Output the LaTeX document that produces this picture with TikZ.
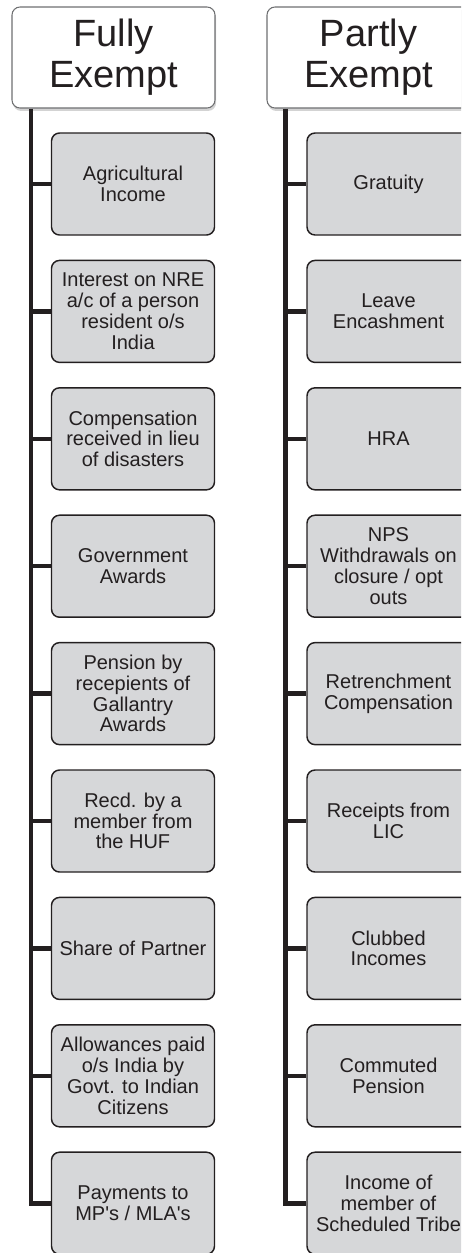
\documentclass[tikz,border=0pt]{standalone}
\usepackage{fontspec}
\setmainfont{Liberation Sans}
\usetikzlibrary{shadows}
\definecolor{inkdark}{RGB}{35,31,32}
\definecolor{boxgray}{RGB}{214,215,217}
\definecolor{framegray}{RGB}{110,111,113}
\tikzstyle{headbox}=[rectangle,rounded corners=6pt,draw=framegray,line width=0.8pt,fill=white,drop shadow={shadow xshift=0.8pt,shadow yshift=-2.2pt,opacity=0.35},minimum width=152.25pt,minimum height=75.75pt,inner sep=0pt,align=center,text=inkdark,font=\fontsize{28.5}{30.5}\selectfont]
\tikzstyle{itembox}=[rectangle,rounded corners=6pt,draw=inkdark,line width=1.1pt,fill=boxgray,minimum width=122.25pt,minimum height=76.5pt,inner sep=0pt,align=center,text=inkdark,font=\fontsize{15}{15.6}\selectfont]
\tikzstyle{spine}=[draw=inkdark,line width=3.6pt]
\tikzstyle{branch}=[draw=inkdark,line width=3.2pt]
\begin{document}
\begin{tikzpicture}[x=0.75pt,y=-0.75pt]

    \clip (0,0) rectangle (461,1253);

    % headings
    \node[headbox] (lhead) at (113.5,57.5) {Fully\\Exempt};
    \node[headbox] (rhead) at (368.5,57.5) {Partly\\Exempt};

    % fully exempt column
    \foreach \i/\txt in {1/{Agricultural\\Income}, 2/{Interest on NRE\\a/c of a person\\resident o/s\\India}, 3/{Compensation\\received in lieu\\of disasters}, 4/{Government\\Awards}, 5/{Pension by\\recepients of\\Gallantry\\Awards}, 6/{Recd. by a\\member from\\the HUF}, 7/{Share of Partner}, 8/{Allowances paid\\o/s India by\\Govt. to Indian\\Citizens}, 9/{Payments to\\MP\textquotesingle s / MLA\textquotesingle s}}
        \node[itembox] (l\i) at (133, 184+127.4*\i-127.4) {\txt};

    % partly exempt column
    \foreach \i/\txt in {1/{Gratuity}, 2/{Leave\\Encashment}, 3/{HRA}, 4/{NPS\\Withdrawals on\\closure / opt\\outs}, 5/{Retrenchment\\Compensation}, 6/{Receipts from\\LIC}, 7/{Clubbed\\Incomes}, 8/{Commuted\\Pension}, 9/{Income of\\member of\\Scheduled Tribe}}
        \node[itembox] (r\i) at (388.5, 184+127.4*\i-127.4) {\txt};

    % spines
    \draw[spine] ([xshift=14.6pt]lhead.south west) coordinate (lspine) |- (l9.west);
    \draw[spine] ([xshift=14.25pt]rhead.south west) coordinate (rspine) |- (r9.west);

    \foreach \i in {1,...,8}{
        \draw[branch] (lspine |- l\i.west) -- (l\i.west);
        \draw[branch] (rspine |- r\i.west) -- (r\i.west);
    }

\end{tikzpicture}
\end{document}
